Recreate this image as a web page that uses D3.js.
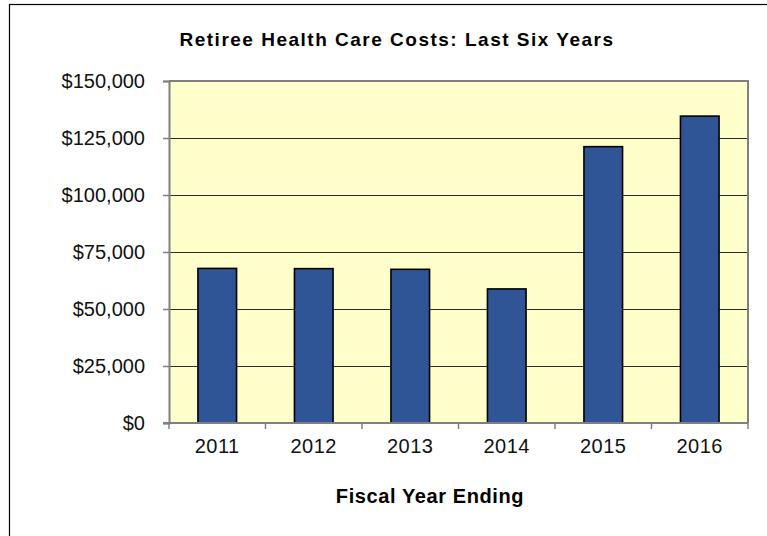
<!DOCTYPE html>
<html>
<head>
<meta charset="utf-8">
<script src="https://cdn.jsdelivr.net/npm/d3@7/dist/d3.min.js"></script>
<style>
  html, body { margin: 0; padding: 0; background: #fff; }
  svg { display: block; font-family: "Liberation Sans", Arial, sans-serif; }
</style>
</head>
<body>
<svg id="chart" width="767" height="536"></svg>
<script>
// Fiscal years and retiree health care costs (USD)
const years = ["2011", "2012", "2013", "2014", "2015", "2016"];
const costs = [67800, 67700, 67400, 58800, 121200, 134600];
const yTicks = [0, 25000, 50000, 75000, 100000, 125000, 150000];

const svg = d3.select("#chart");
const plot = { left: 169, right: 748, top: 81, bottom: 423 };

// Outer chart frame
svg.append("rect")
  .attr("x", 9.5).attr("y", 4.5)
  .attr("width", 800).attr("height", 600)
  .attr("fill", "#fff").attr("stroke", "#000").attr("stroke-width", 1.2);

const x = d3.scaleBand()
  .domain(years)
  .range([plot.left, plot.right])
  .paddingInner(0.6)
  .paddingOuter(0.3);

const y = d3.scaleLinear()
  .domain([0, 150000])
  .range([plot.bottom, plot.top]);

// Plot background
svg.append("rect")
  .attr("x", plot.left).attr("y", plot.top)
  .attr("width", plot.right - plot.left).attr("height", plot.bottom - plot.top)
  .attr("fill", "#FFFFCC");

// Horizontal gridlines
svg.append("g")
  .selectAll("line")
  .data(yTicks.filter(d => d > 0 && d < 150000))
  .join("line")
  .attr("x1", plot.left).attr("x2", plot.right)
  .attr("y1", d => Math.round(y(d)) + 0.5).attr("y2", d => Math.round(y(d)) + 0.5)
  .attr("stroke", "#2b2b2b").attr("stroke-width", 1);

// Plot border (top and right)
svg.append("path")
  .attr("d", `M${plot.left},${plot.top}H${plot.right}V${plot.bottom}`)
  .attr("fill", "none").attr("stroke", "#808080").attr("stroke-width", 2);

// Bars
svg.append("g")
  .selectAll("rect")
  .data(years.map((yr, i) => ({ yr, v: costs[i] })))
  .join("rect")
  .attr("x", d => x(d.yr))
  .attr("y", d => y(d.v))
  .attr("width", x.bandwidth())
  .attr("height", d => y(0) - y(d.v))
  .attr("fill", "#2F5597")
  .attr("stroke", "#000")
  .attr("stroke-width", 1.6);

// Y axis
const fmt = d => "$" + d3.format(",")(d);
const yAxis = svg.append("g")
  .attr("transform", `translate(${plot.left},0)`)
  .call(d3.axisLeft(y).tickValues(yTicks).tickFormat(fmt).tickSize(6).tickPadding(18));
yAxis.select(".domain").attr("stroke", "#808080").attr("stroke-width", 2);
yAxis.selectAll(".tick line").attr("stroke", "#808080").attr("stroke-width", 1.5);
yAxis.selectAll(".tick text")
  .attr("font-size", 20).attr("fill", "#111")
  .attr("font-family", "'Liberation Sans', Arial, sans-serif");

// X axis: ticks sit between categories
const xAxis = svg.append("g")
  .attr("transform", `translate(0,${plot.bottom})`);
xAxis.append("line")
  .attr("x1", plot.left - 6).attr("x2", plot.right)
  .attr("stroke", "#808080").attr("stroke-width", 2);
const step = x.step();
const bounds = d3.range(years.length + 1).map(i => plot.left + i * step);
xAxis.selectAll("line.tk")
  .data(bounds)
  .join("line")
  .attr("class", "tk")
  .attr("x1", d => d).attr("x2", d => d)
  .attr("y1", 0).attr("y2", 6)
  .attr("stroke", "#808080").attr("stroke-width", 1.5);
xAxis.selectAll("text")
  .data(years)
  .join("text")
  .attr("x", d => x(d) + x.bandwidth() / 2)
  .attr("y", 30)
  .attr("text-anchor", "middle")
  .attr("font-size", 20).attr("letter-spacing", 0.5).attr("fill", "#111")
  .text(d => d);

// Title
svg.append("text")
  .attr("x", 397).attr("y", 46)
  .attr("text-anchor", "middle")
  .attr("font-size", 19).attr("letter-spacing", 1.5)
  .attr("font-weight", "bold").attr("fill", "#000")
  .text("Retiree Health Care Costs: Last Six Years");

// X axis title
svg.append("text")
  .attr("x", 430).attr("y", 503)
  .attr("text-anchor", "middle")
  .attr("font-size", 20).attr("letter-spacing", 0.6)
  .attr("font-weight", "bold").attr("fill", "#000")
  .text("Fiscal Year Ending");
</script>
</body>
</html>
